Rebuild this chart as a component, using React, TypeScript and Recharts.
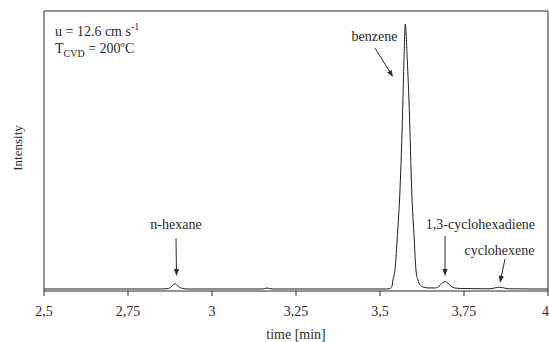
import { LineChart, Line, XAxis, YAxis, ReferenceLine, ReferenceDot } from 'recharts';

// chromatogram points (time in min, relative intensity)
const times = [
  2.5, 2.85, 2.87, 2.88, 2.89, 2.9, 2.912, 2.93,
  3.15, 3.164, 3.18,
  3.52, 3.528, 3.535, 3.5387, 3.5446, 3.551, 3.5595, 3.5675, 3.5714, 3.5753,
  3.5812, 3.5872, 3.5943, 3.602, 3.607, 3.613, 3.619, 3.63, 3.645,
  3.665, 3.675, 3.685, 3.6935, 3.702, 3.712, 3.722, 3.74,
  3.8, 3.828, 3.845, 3.855, 3.865, 3.882, 3.95, 4.0,
];
const intensity = [
  0, 0, 0.2, 1.0, 2.0, 1.0, 0.2, 0,
  0, 0.35, 0,
  0, 0.1, 0.8, 3.4, 7.2, 18.5, 37.4, 67.5, 86.4, 100,
  86.4, 67.5, 37.4, 18.5, 7.2, 3.4, 1.5, 0.7, 0.4,
  0.4, 1.0, 2.2, 2.75, 2.2, 1.0, 0.4, 0.2,
  0.1, 0.1, 0.5, 0.65, 0.5, 0.1, 0, 0,
];

const xTicks = [2.5, 2.75, 3, 3.25, 3.5, 3.75, 4];
const yDomain = [-0.755, 104.9];

// peak labels: text centre, arrow start, arrow end (data coords)
const peakNames = ['benzene', 'n-hexane', '1,3-cyclohexadiene', 'cyclohexene'];
const labelAt = [[3.4836, 95.1], [2.8929, 24.2], [3.799, 24.2], [3.8557, 14.7]];
const arrowFrom = [[3.4851, 90.9], [2.8929, 19.2], [3.6935, 20.0], [3.872, 11.3]];
const arrowTo = [[3.5387, 80.0], [2.8944, 4.9], [3.6935, 4.9], [3.857, 2.3]];

const data = times.map((t, i) => ({ t, v: intensity[i] }));

const FONT = '"Liberation Serif", "Times New Roman", serif';
const INK = '#2a2a2a';

function Arrow(props: any) {
  const { x1, y1, x2, y2 } = props;
  const a = Math.atan2(y2 - y1, x2 - x1);
  const len = 7;
  const w = 2.6;
  const bx = x2 - len * Math.cos(a);
  const by = y2 - len * Math.sin(a);
  const px = -Math.sin(a) * w;
  const py = Math.cos(a) * w;
  return (
    <g>
      <line x1={x1} y1={y1} x2={bx} y2={by} stroke={INK} strokeWidth={1} />
      <polygon points={`${x2},${y2} ${bx + px},${by + py} ${bx - px},${by - py}`} fill={INK} />
    </g>
  );
}

function YLabel(props: any) {
  const vb = props.viewBox || { x: 0, y: 11, width: 44, height: 280 };
  const x = vb.x + 22;
  const y = vb.y + vb.height / 2 - 3;
  return (
    <text
      x={x}
      y={y}
      transform={`rotate(-90, ${x}, ${y})`}
      textAnchor="middle"
      fontFamily={FONT}
      fontSize={13}
      fill={INK}
    >
      Intensity
    </text>
  );
}

export default function App() {
  return (
    <div style={{ position: 'absolute', left: 0, top: 0 }}>
      <LineChart width={549} height={342} data={data} margin={{ top: 11, right: 1, left: 0, bottom: 0 }}>
        <XAxis
          dataKey="t"
          type="number"
          domain={[2.5, 4]}
          ticks={xTicks}
          tickFormatter={(v: number) => String(v).replace('.', ',')}
          height={51}
          tickSize={5}
          tickMargin={10}
          stroke={INK}
          tick={{ fontFamily: FONT, fontSize: 14, fill: INK }}
          label={{ value: 'time [min]', position: 'insideBottom', offset: 3, fontFamily: FONT, fontSize: 14, fill: INK }}
        />
        <YAxis
          type="number"
          domain={yDomain}
          allowDataOverflow
          width={44}
          tick={false}
          tickLine={false}
          stroke={INK}
          label={<YLabel />}
        />
        <ReferenceLine y={yDomain[1]} stroke={INK} strokeWidth={1} />
        <ReferenceLine x={4} stroke={INK} strokeWidth={1} />
        <Line
          dataKey="v"
          type="monotone"
          stroke="#1e1e1e"
          strokeWidth={1}
          dot={false}
          isAnimationActive={false}
        />
        {peakNames.map((name, i) => (
          <ReferenceLine
            key={'a' + name}
            segment={[
              { x: arrowFrom[i][0], y: arrowFrom[i][1] },
              { x: arrowTo[i][0], y: arrowTo[i][1] },
            ]}
            shape={Arrow}
          />
        ))}
        {peakNames.map((name, i) => (
          <ReferenceDot
            key={'l' + name}
            x={labelAt[i][0]}
            y={labelAt[i][1]}
            r={0}
            shape={(p: any) => (
              <text
                x={p.cx}
                y={p.cy}
                textAnchor="middle"
                dominantBaseline="central"
                fontFamily={FONT}
                fontSize={14}
                fill={INK}
              >
                {name}
              </text>
            )}
          />
        ))}
        <ReferenceDot
          x={2.5327}
          y={95.47}
          r={0}
          shape={(p: any) => (
            <text x={p.cx} y={p.cy} fontFamily={FONT} fontSize={14} fill={INK}>
              u = 12.6 cm s
              <tspan fontSize={10} dy={-6}>-1</tspan>
            </text>
          )}
        />
        <ReferenceDot
          x={2.5327}
          y={89.06}
          r={0}
          shape={(p: any) => (
            <text x={p.cx} y={p.cy} fontFamily={FONT} fontSize={14} fill={INK}>
              T
              <tspan fontSize={10} dy={4}>CVD</tspan>
              <tspan dy={-4}> = 200ºC</tspan>
            </text>
          )}
        />
      </LineChart>
    </div>
  );
}
